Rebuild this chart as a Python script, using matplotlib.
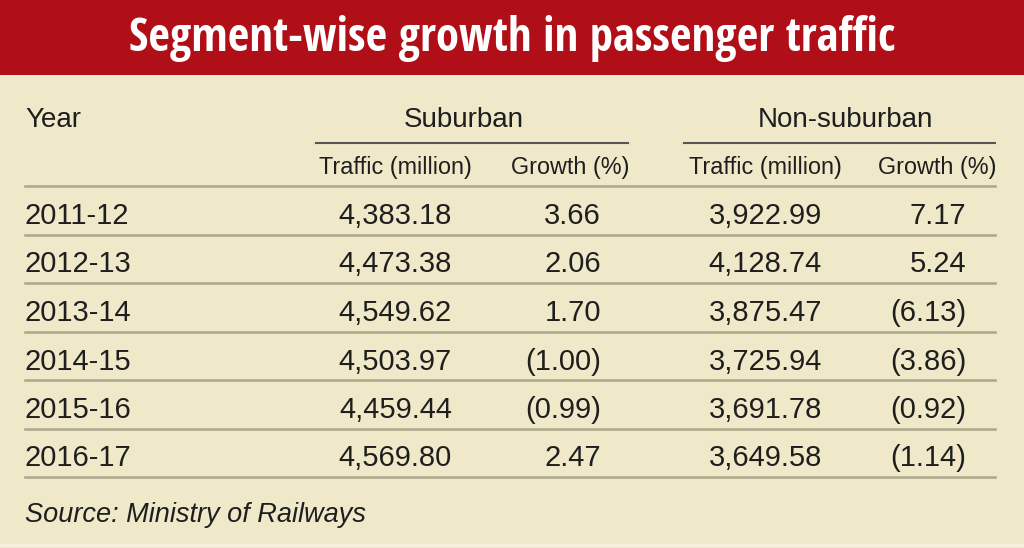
import matplotlib
matplotlib.use("Agg")
import matplotlib.pyplot as plt

title = "Segment-wise growth in passenger traffic"
years = ["2011-12", "2012-13", "2013-14", "2014-15", "2015-16", "2016-17"]
sub_traffic = [4383.18, 4473.38, 4549.62, 4503.97, 4459.44, 4569.80]
sub_growth = [3.66, 2.06, 1.70, -1.00, -0.99, 2.47]
non_traffic = [3922.99, 4128.74, 3875.47, 3725.94, 3691.78, 3649.58]
non_growth = [7.17, 5.24, -6.13, -3.86, -0.92, -1.14]
source = "Source: Ministry of Railways"


def fmt_t(v):
    return f"{v:,.2f}"


def fmt_g(v):
    return f"({abs(v):.2f})" if v < 0 else f"{v:.2f}"


title_fam = ["Open Sans Condensed", "Asap Condensed", "Liberation Sans"]
body = ["Liberation Sans", "DejaVu Sans"]

W, H = 1024, 548
fig = plt.figure(figsize=(W / 100, H / 100), dpi=100)
fig.patch.set_facecolor("#efe8c9")
ax = fig.add_axes([0, 0, 1, 1])
ax.set_xlim(0, W)
ax.set_ylim(H, 0)
ax.axis("off")

# banner
ax.add_patch(plt.Rectangle((0, 0), W, 75, color="#b10f17", lw=0))
t = ax.text(512, 38, title, color="white", fontsize=34, fontweight="bold",
            family=title_fam, ha="center", va="center")
fig.canvas.draw()
bb = t.get_window_extent()
t.set_fontsize(34 * 765 / bb.width)

txt = "#1e1e1e"
line_c = "#aca88a"

# header
hb = 127
ax.text(25, hb, "Year", fontsize=20, family=body, color=txt, va="baseline", ha="left")
ax.text(464, hb, "Suburban", fontsize=20, family=body, color=txt, va="baseline", ha="center")
ax.text(845, hb, "Non-suburban", fontsize=20, family=body, color=txt, va="baseline", ha="center")
ax.plot([316, 628], [143, 143], color="#555555", lw=1.5)
ax.plot([684, 995], [143, 143], color="#555555", lw=1.5)

sb = 174
ax.text(395, sb, "Traffic (million)", fontsize=16.8, family=body, color=txt, va="baseline", ha="center")
ax.text(570, sb, "Growth (%)", fontsize=16.8, family=body, color=txt, va="baseline", ha="center")
ax.text(765, sb, "Traffic (million)", fontsize=16.8, family=body, color=txt, va="baseline", ha="center")
ax.text(937, sb, "Growth (%)", fontsize=16.8, family=body, color=txt, va="baseline", ha="center")

top = 186
step = 48.5
fs = 21
ax.plot([25, 995], [top, top], color=line_c, lw=1.8)
for i, y in enumerate(years):
    yb = top + step * i + 38
    ax.text(25, yb, y, fontsize=fs, family=body, color=txt, va="baseline", ha="left")
    ax.text(452, yb, fmt_t(sub_traffic[i]), fontsize=fs, family=body, color=txt, va="baseline", ha="right")
    ax.text(601, yb, fmt_g(sub_growth[i]), fontsize=fs, family=body, color=txt, va="baseline", ha="right")
    ax.text(822, yb, fmt_t(non_traffic[i]), fontsize=fs, family=body, color=txt, va="baseline", ha="right")
    ax.text(966, yb, fmt_g(non_growth[i]), fontsize=fs, family=body, color=txt, va="baseline", ha="right")
    ly = top + step * (i + 1)
    ax.plot([25, 995], [ly, ly], color=line_c, lw=1.8)

ax.text(25, 522, source, fontsize=19.5, family=body, style="italic", color=txt, va="baseline", ha="left")
ax.plot([0, W], [545, 545], color="#f6f2df", lw=2)

fig.savefig("out.png", dpi=100, facecolor=fig.get_facecolor())
